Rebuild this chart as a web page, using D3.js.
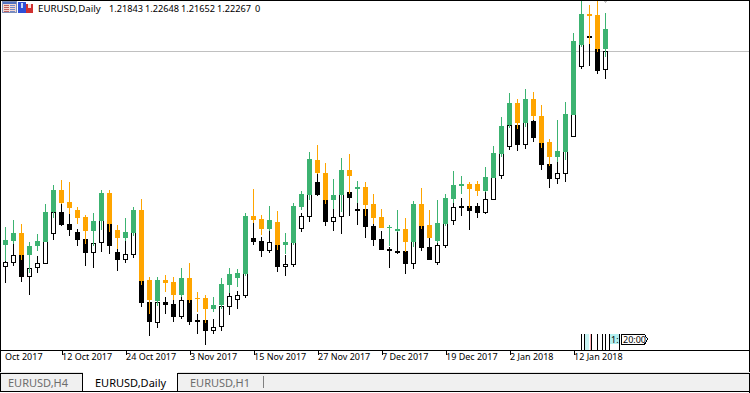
<!DOCTYPE html>
<html>
<head>
<meta charset="utf-8">
<script src="https://cdn.jsdelivr.net/npm/d3@7"></script>
<style>
  html, body { margin: 0; padding: 0; background: #fff; overflow: hidden; }
  text { font-family: "Noto Sans", sans-serif; }
</style>
</head>
<body>
<div id="chart"></div>
<script>
const candleOpen = [1.17515,1.17603,1.17779,1.17295,1.17493,1.17581,1.18241,1.18725,1.18461,1.18285,1.18131,1.17823,1.18043,1.18659,1.17845,1.17669,1.17779,1.18285,1.16745,1.16283,1.16745,1.16701,1.16415,1.16789,1.16349,1.16349,1.16107,1.16195,1.16635,1.16789,1.16877,1.18153,1.18087,1.17867,1.18021,1.17515,1.17559,1.18351,1.18615,1.19385,1.19099,1.18505,1.18615,1.19165,1.18747,1.18791,1.18417,1.18131,1.17889,1.17823,1.17867,1.17581,1.18417,1.17955,1.17603,1.17977,1.18527,1.18813,1.18857,1.18857,1.18703,1.18989,1.19517,1.20155,1.20639,1.20199,1.20727,1.20353,1.19781,1.19451,1.19561,1.20375,1.21915,1.22597,1.22575,1.21843]
const candleHigh = [1.17911,1.18065,1.17977,1.17581,1.17757,1.18417,1.18835,1.18945,1.18901,1.18351,1.18175,1.18219,1.18725,1.18725,1.17955,1.18109,1.18351,1.18527,1.16811,1.16811,1.16855,1.16811,1.17009,1.17119,1.16481,1.16415,1.16371,1.16789,1.17009,1.16987,1.18219,1.18747,1.18175,1.18373,1.18263,1.17779,1.18439,1.18703,1.19561,1.19715,1.19319,1.18967,1.19429,1.19517,1.18923,1.18901,1.18637,1.18307,1.17955,1.18285,1.18109,1.18483,1.18769,1.18285,1.18505,1.18637,1.19143,1.19033,1.18901,1.18923,1.19231,1.19693,1.20331,1.20859,1.20727,1.20947,1.20881,1.20595,1.19847,1.20265,1.20661,1.22179,1.23015,1.22795,1.22883,1.22648]
const candleLow = [1.17163,1.17537,1.17185,1.16899,1.17383,1.17581,1.18109,1.18417,1.18197,1.17977,1.17537,1.17493,1.17845,1.17801,1.17427,1.17603,1.17713,1.16635,1.15997,1.16173,1.16481,1.16305,1.16371,1.16239,1.16041,1.15799,1.16041,1.16107,1.16459,1.16591,1.16833,1.17999,1.17735,1.17823,1.17405,1.17317,1.17515,1.18285,1.18505,1.19077,1.18417,1.18307,1.18241,1.18637,1.18439,1.18153,1.17977,1.17889,1.17493,1.17801,1.17361,1.17471,1.17867,1.17669,1.17559,1.17933,1.18439,1.18637,1.18329,1.18593,1.18681,1.18989,1.19451,1.20089,1.20067,1.20111,1.20265,1.19649,1.19253,1.19341,1.19385,1.20375,1.21871,1.21937,1.21761,1.21652]
const candleClose = [1.17625,1.17779,1.17295,1.17493,1.17603,1.18241,1.18725,1.18439,1.18329,1.18109,1.17823,1.18043,1.18659,1.17977,1.17669,1.17801,1.18285,1.16723,1.16305,1.16745,1.16679,1.16415,1.16789,1.16305,1.16327,1.16107,1.16195,1.16657,1.16877,1.16899,1.18153,1.18065,1.17867,1.18065,1.17515,1.17581,1.18373,1.18637,1.19407,1.19099,1.18505,1.18615,1.19165,1.19033,1.18791,1.18395,1.18109,1.17889,1.17911,1.17867,1.17581,1.18417,1.17933,1.17669,1.17999,1.18549,1.18835,1.18857,1.18747,1.18703,1.19011,1.19539,1.20133,1.20639,1.20199,1.20727,1.20353,1.19759,1.19451,1.19583,1.20397,1.22003,1.22597,1.22553,1.21827,1.22267]

// second series drawn over the first, sits a bit above it
const shiftedOpen = [1.17999,1.18087,1.18263,1.17779,1.17977,1.18065,1.18725,1.19209,1.18945,1.18769,1.18615,1.18307,1.18527,1.19143,1.18329,1.18153,1.18263,1.18769,1.17229,1.16767,1.17229,1.17185,1.16899,1.17273,1.16833,1.16833,1.16591,1.16679,1.17119,1.17273,1.17361,1.18637,1.18571,1.18351,1.18505,1.17999,1.18043,1.18835,1.19099,1.19869,1.19583,1.18989,1.19099,1.19649,1.19231,1.19275,1.18901,1.18615,1.18373,1.18307,1.18351,1.18065,1.18901,1.18439,1.18087,1.18461,1.19011,1.19297,1.19341,1.19341,1.19187,1.19473,1.20001,1.20639,1.21123,1.20683,1.21211,1.20837,1.20265,1.19935,1.20045,1.20859,1.22399,1.23081,1.23059,1.22311]
const shiftedHigh = [1.18395,1.18549,1.18461,1.18065,1.18241,1.18901,1.19319,1.19429,1.19385,1.18835,1.18659,1.18703,1.19209,1.19209,1.18439,1.18593,1.18835,1.19011,1.17295,1.17295,1.17339,1.17295,1.17493,1.17603,1.16965,1.16899,1.16855,1.17273,1.17493,1.17471,1.18703,1.19231,1.18659,1.18857,1.18747,1.18263,1.18923,1.19187,1.20045,1.20199,1.19803,1.19451,1.19913,1.20001,1.19407,1.19385,1.19121,1.18791,1.18439,1.18769,1.18593,1.18967,1.19253,1.18769,1.18989,1.19121,1.19627,1.19517,1.19385,1.19407,1.19715,1.20177,1.20815,1.21343,1.21211,1.21431,1.21365,1.21079,1.20331,1.20749,1.21145,1.22663,1.23499,1.23279,1.23367,1.23103]
const shiftedLow = [1.17647,1.18021,1.17669,1.17383,1.17867,1.18065,1.18593,1.18901,1.18681,1.18461,1.18021,1.17977,1.18329,1.18285,1.17911,1.18087,1.18197,1.17119,1.16481,1.16657,1.16965,1.16789,1.16855,1.16723,1.16525,1.16283,1.16525,1.16591,1.16943,1.17075,1.17317,1.18483,1.18219,1.18307,1.17889,1.17801,1.17999,1.18769,1.18989,1.19561,1.18901,1.18791,1.18725,1.19121,1.18923,1.18637,1.18461,1.18373,1.17977,1.18285,1.17845,1.17955,1.18351,1.18153,1.18043,1.18417,1.18923,1.19121,1.18813,1.19077,1.19165,1.19473,1.19935,1.20573,1.20551,1.20595,1.20749,1.20133,1.19737,1.19825,1.19869,1.20859,1.22355,1.22421,1.22245,1.22135]
const shiftedClose = [1.18109,1.18263,1.17779,1.17977,1.18087,1.18725,1.19209,1.18923,1.18813,1.18593,1.18307,1.18527,1.19143,1.18461,1.18153,1.18285,1.18769,1.17207,1.16789,1.17229,1.17163,1.16899,1.17273,1.16789,1.16811,1.16591,1.16679,1.17141,1.17361,1.17383,1.18637,1.18549,1.18351,1.18549,1.17999,1.18065,1.18857,1.19121,1.19891,1.19583,1.18989,1.19099,1.19649,1.19517,1.19275,1.18879,1.18593,1.18373,1.18395,1.18351,1.18065,1.18901,1.18417,1.18153,1.18483,1.19033,1.19319,1.19341,1.19231,1.19187,1.19495,1.20023,1.20617,1.21123,1.20683,1.21211,1.20837,1.20243,1.19935,1.20067,1.20881,1.22487,1.23081,1.23037,1.22311,1.22751]

const lastPrice = 1.22267
const tickBars = [-1, 7, 15, 23, 31, 39, 47, 55, 63, 71]
const tickLabels = ["Oct 2017", "12 Oct 2017", "24 Oct 2017", "3 Nov 2017", "15 Nov 2017", "27 Nov 2017", "7 Dec 2017", "19 Dec 2017", "2 Jan 2018", "12 Jan 2018"]
const titleText = "EURUSD,Daily"
const ohlcText = ["1.21843", "1.22648", "1.21652", "1.22267", "0"]
const tabNames = ["EURUSD,H4", "EURUSD,Daily", "EURUSD,H1"]

const w = 750, h = 393, plotH = 350

const svg = d3.select("#chart").append("svg")
  .attr("width", w)
  .attr("height", h)
  .style("display", "block")
  .attr("shape-rendering", "crispEdges")

svg.append("defs").append("clipPath").attr("id", "plotClip")
  .append("rect").attr("x", 1).attr("y", 1).attr("width", w - 2).attr("height", plotH - 1)

svg.append("rect").attr("width", w).attr("height", h).attr("fill", "#fff")

const xScale = d3.scaleLinear([0, 75], [5.5, 605.5])
const yScale = d3.scaleLinear([1.23389, 1.15689], [0, plotH])
const yPx = v => Math.round(yScale(v))

const plot = svg.append("g").attr("clip-path", "url(#plotClip)")

// last price line
plot.append("rect")
  .attr("x", 3).attr("width", w)
  .attr("y", yPx(lastPrice)).attr("height", 1)
  .attr("fill", "#c0c0c0")

function drawCandles(open, high, low, close, upFill, downFill, upStroke, wickUp, wickDown) {
  const g = plot.append("g")
  const bars = d3.range(open.length)

  g.selectAll(".wick").data(bars).enter().append("rect")
    .attr("class", "wick")
    .attr("x", i => xScale(i) - 0.5)
    .attr("width", 1)
    .attr("y", i => yPx(high[i]))
    .attr("height", i => yPx(low[i]) - yPx(high[i]))
    .attr("fill", i => close[i] >= open[i] ? wickUp : wickDown)

  g.selectAll(".body").data(bars).enter().append("rect")
    .attr("class", "body")
    .attr("x", i => xScale(i) - (upStroke ? 2 : 2.5))
    .attr("width", upStroke ? 4 : 5)
    .attr("y", i => yPx(Math.max(open[i], close[i])) + (upStroke ? 0.5 : 0))
    .attr("height", i => Math.max(1, yPx(Math.min(open[i], close[i])) - yPx(Math.max(open[i], close[i])) - (upStroke ? 1 : 0)))
    .attr("fill", i => close[i] >= open[i] ? upFill : downFill)
    .attr("stroke", upStroke || "none")
}

drawCandles(candleOpen, candleHigh, candleLow, candleClose, "#fff", "#000", "#000", "#000", "#000")
drawCandles(shiftedOpen, shiftedHigh, shiftedLow, shiftedClose, "#3cb371", "#ffa500", null, "#3cb371", "#ffa500")

// little grey mark at the very top, above the last bar
plot.append("rect").attr("x", xScale(75) - 1.5).attr("y", 1).attr("width", 3).attr("height", 1).attr("fill", "#c0c0c0")
plot.append("rect").attr("x", xScale(75) - 0.5).attr("y", 1).attr("width", 1).attr("height", 2).attr("fill", "#c0c0c0")

// session markers near the time axis
const markers = svg.append("g")
markers.append("rect").attr("x", 585).attr("y", 334).attr("width", 4).attr("height", 16).attr("fill", "#c8f4f4")
markers.append("rect").attr("x", 590).attr("y", 334).attr("width", 1).attr("height", 16).attr("fill", "#ffb0b8")
markers.append("rect").attr("x", 609).attr("y", 334).attr("width", 10).attr("height", 10).attr("fill", "#b4f0f0")
for (const x of [581, 584, 591, 597, 602, 605, 609, 619]) {
  markers.append("rect").attr("x", x).attr("y", 334).attr("width", 1).attr("height", 16).attr("fill", "#000")
}
markers.append("text").attr("x", 611).attr("y", 343).attr("font-size", 9).attr("fill", "#000").text("1:")
markers.append("path")
  .attr("d", "M621.5,334.5H644.5L647.5,339L644.5,344.5H621.5Z")
  .attr("fill", "#fff").attr("stroke", "#000")
markers.append("text").attr("x", 623).attr("y", 343).attr("font-size", 9).attr("fill", "#000").text("20:00")

// time axis
const xAxis = d3.axisBottom(xScale)
  .tickValues(tickBars)
  .tickSize(5)
  .tickFormat((d, i) => tickLabels[i])

const axisG = svg.append("g")
  .attr("transform", `translate(0, ${plotH})`)
  .call(xAxis)

axisG.select(".domain").remove()
axisG.selectAll("text")
  .attr("text-anchor", "start")
  .attr("x", 0)
  .attr("y", 4)
  .attr("font-size", 9)
  .attr("font-family", "Noto Sans")
  .attr("fill", "#000")
axisG.selectAll(".tick").filter(d => d === -1).select("text").attr("x", 7)
axisG.selectAll(".tick line").attr("stroke", "#000")

// frame
svg.append("rect").attr("x", 0).attr("y", 0).attr("width", w).attr("height", 1).attr("fill", "#000")
svg.append("rect").attr("x", 0).attr("y", 0).attr("width", 1).attr("height", 373).attr("fill", "#000")
svg.append("rect").attr("x", w - 1).attr("y", 0).attr("width", 1).attr("height", 393).attr("fill", "#000")
svg.append("rect").attr("x", 0).attr("y", plotH).attr("width", w).attr("height", 1).attr("fill", "#000")

// tab strip
const tabs = svg.append("g")
tabs.append("rect").attr("x", 0).attr("y", 372).attr("width", w).attr("height", 1).attr("fill", "#e3e3e3")
tabs.append("rect").attr("x", 0).attr("y", 373).attr("width", w - 1).attr("height", 18).attr("fill", "#f0f0f0")
tabs.append("rect").attr("x", 0).attr("y", 373).attr("width", w).attr("height", 1).attr("fill", "#000")
tabs.append("rect").attr("x", 0).attr("y", 391).attr("width", w).attr("height", 1).attr("fill", "#000")
tabs.append("rect").attr("x", 0).attr("y", 373).attr("width", 1).attr("height", 19).attr("fill", "#000")
tabs.append("rect").attr("x", 83).attr("y", 372).attr("width", 95).attr("height", 19).attr("fill", "#fff")
tabs.append("rect").attr("x", 82).attr("y", 373).attr("width", 1).attr("height", 18).attr("fill", "#000")
tabs.append("rect").attr("x", 177).attr("y", 373).attr("width", 1).attr("height", 18).attr("fill", "#000")
tabs.append("rect").attr("x", 263).attr("y", 376).attr("width", 1).attr("height", 12).attr("fill", "#808080")
const tabX = [8, 95, 190]
tabs.selectAll("text").data(tabNames).enter().append("text")
  .attr("x", (d, i) => tabX[i])
  .attr("y", 387)
  .attr("font-size", 11)
  .attr("fill", (d, i) => i === 1 ? "#000" : "#6d6d6d")
  .text(d => d)

// title bar icons
const icons = svg.append("g")
icons.append("rect").attr("x", 2.5).attr("y", 1.5).attr("width", 14).attr("height", 11).attr("fill", "#f4d8d0").attr("stroke", "#8090b8")
icons.append("rect").attr("x", 3).attr("y", 2).attr("width", 13).attr("height", 2).attr("fill", "#5070c0")
for (const y of [5, 7, 9, 11]) {
  icons.append("rect").attr("x", 4).attr("y", y).attr("width", 5).attr("height", 1).attr("fill", "#c06060")
  icons.append("rect").attr("x", 10).attr("y", y).attr("width", 5).attr("height", 1).attr("fill", "#7088c8")
}
icons.append("rect").attr("x", 18).attr("y", 2).attr("width", 8).attr("height", 11).attr("fill", "#2f50d8")
icons.append("rect").attr("x", 21).attr("y", 3).attr("width", 2).attr("height", 5).attr("fill", "#c8d8f8")
icons.append("rect").attr("x", 26).attr("y", 4).attr("width", 7).attr("height", 9).attr("fill", "#d03030")
icons.append("rect").attr("x", 28).attr("y", 4).attr("width", 3).attr("height", 4).attr("fill", "#f8e0d8")

// header text
const header = svg.append("g")
header.append("text").attr("x", 38).attr("y", 12).attr("font-size", 9.7).attr("fill", "#000").text(titleText)
const ohlcX = [109, 145, 181, 217, 255]
header.selectAll(".ohlc").data(ohlcText).enter().append("text")
  .attr("class", "ohlc")
  .attr("x", (d, i) => ohlcX[i])
  .attr("y", 12)
  .attr("font-size", 9.2)
  .attr("fill", "#000")
  .text(d => d)
</script>
</body>
</html>
